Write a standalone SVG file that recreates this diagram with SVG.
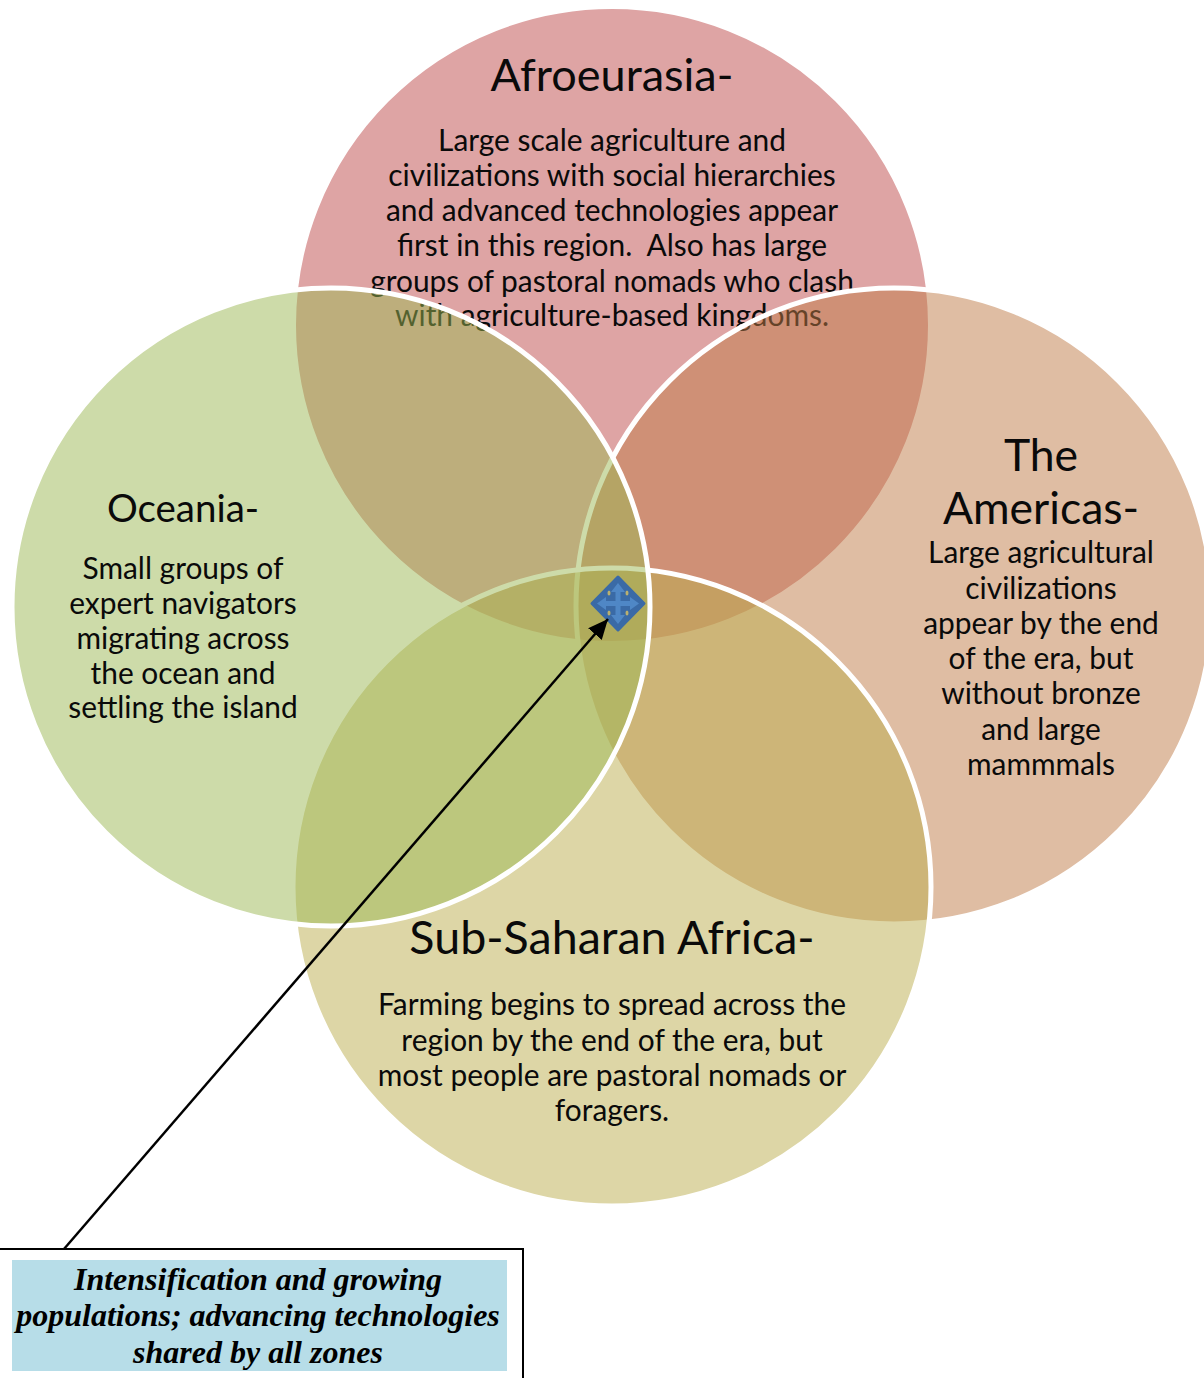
<svg xmlns="http://www.w3.org/2000/svg" width="1204" height="1378" viewBox="0 0 1204 1378">
<style>
.c{fill-opacity:.5;stroke:#fff;stroke-width:5}
text{font-family:Lato,"Liberation Sans",sans-serif;fill:#0a0a0a;text-anchor:middle}
.h{font-size:45px}
.b{font-size:29.900px}
.n{font-family:"Liberation Serif",serif;font-weight:bold;font-style:italic;font-size:32px;fill:#000}
</style>
<defs>
<marker id="ah" markerUnits="userSpaceOnUse" markerWidth="22" markerHeight="20" refX="20" refY="9" orient="auto"><path d="M0 0L20 9L0 18z" fill="#000"/></marker>
</defs>
<rect width="1204" height="1378" fill="#fff"/>
<g id="afroeurasia">
<circle class="c" cx="612" cy="325" r="318.500" fill="#bd4949"/>
<text class="h" x="612" y="91">Afroeurasia-</text>
<text class="b" x="612" y="151">Large scale agriculture and</text>
<text class="b" x="612" y="186">civilizations with social hierarchies</text>
<text class="b" x="612" y="221">and advanced technologies appear</text>
<text class="b" x="612" y="256" xml:space="preserve">first in this region.  Also has large</text>
<text class="b" x="612" y="292">groups of pastoral nomads who clash</text>
<text class="b" x="612" y="326">with agriculture-based kingdoms.</text>
</g>
<g id="americas">
<circle class="c" cx="894" cy="606" r="318" fill="#bf7b47"/>
<text class="h" x="1041" y="471" style="font-size:44.500px">The</text>
<text class="h" x="1041" y="524" style="font-size:44.500px">Americas-</text>
<text class="b" x="1041" y="563">Large agricultural</text>
<text class="b" x="1041" y="599">civilizations</text>
<text class="b" x="1041" y="634">appear by the end</text>
<text class="b" x="1041" y="669">of the era, but</text>
<text class="b" x="1041" y="704">without bronze</text>
<text class="b" x="1041" y="740">and large</text>
<text class="b" x="1041" y="775">mammmals</text>
</g>
<g id="subsaharan">
<circle class="c" cx="612" cy="887" r="319" fill="#bbad4d"/>
<text class="h" x="612" y="954" style="font-size:46.600px">Sub-Saharan Africa-</text>
<text class="b" x="612" y="1015">Farming begins to spread across the</text>
<text class="b" x="612" y="1051">region by the end of the era, but</text>
<text class="b" x="612" y="1086">most people are pastoral nomads or</text>
<text class="b" x="612" y="1121">foragers.</text>
</g>
<g id="oceania">
<circle class="c" cx="331" cy="607" r="319" fill="#9bb753"/>
<text x="183" y="522" style="font-size:38.500px">Oceania-</text>
<text class="b" x="183" y="579">Small groups of</text>
<text class="b" x="183" y="614">expert navigators</text>
<text class="b" x="183" y="649">migrating across</text>
<text class="b" x="183" y="684">the ocean and</text>
<text class="b" x="183" y="718">settling the island</text>
</g>
<g id="move-icon">
<path d="M618 577L644 603.500L618 630L592 603.500z" fill="#3a6aa6" stroke="#3a6aa6" stroke-width="3" stroke-linejoin="round"/>
<path d="M618 583L625 592H620.500V601H630V597L639 603.500L630 610V606H620.500V615H625L618 624L611 615H615.500V606H606V610L597 603.500L606 597V601H615.500V592H611z" fill="#4f87c6"/>
<g fill="#b9b070"><ellipse cx="609" cy="593" rx="1.500" ry="2.500"/><ellipse cx="627" cy="593" rx="1.500" ry="2.500"/><ellipse cx="609" cy="613" rx="1.500" ry="2.500"/><ellipse cx="627" cy="613" rx="1.500" ry="2.500"/></g>
</g>
<g id="connectors">
<path d="M64 1249L608 619" fill="none" stroke="#000" stroke-width="2.500" marker-end="url(#ah)"/>
</g>
<g id="callout">
<rect x="-3" y="1249" width="526" height="140" fill="#fff" stroke="#000" stroke-width="2"/>
<rect x="12" y="1260" width="495" height="111" fill="#b7dde8"/>
<text class="n" x="258" y="1290">Intensification and growing</text>
<text class="n" x="258" y="1326">populations; advancing technologies</text>
<text class="n" x="258" y="1363">shared by all zones</text>
</g>
</svg>
